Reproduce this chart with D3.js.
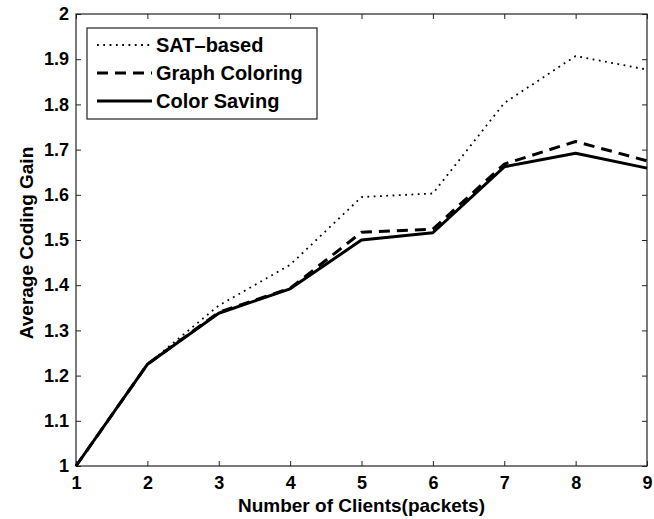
<!DOCTYPE html>
<html>
<head>
<meta charset="utf-8">
<script src="https://cdn.jsdelivr.net/npm/d3@7"></script>
<style>
  body { margin: 0; background: #fff; }
  svg text { font-family: "Liberation Sans", Arial, sans-serif; font-weight: bold; fill: #000; }
</style>
</head>
<body>
<div id="chart"></div>
<script>
const clients = [1, 2, 3, 4, 5, 6, 7, 8, 9];
const satBased      = [1, 1.225, 1.355, 1.445, 1.595, 1.603, 1.803, 1.907, 1.877];
const graphColoring = [1, 1.225, 1.340, 1.393, 1.517, 1.524, 1.668, 1.718, 1.675];
const colorSaving   = [1, 1.225, 1.338, 1.392, 1.500, 1.516, 1.662, 1.692, 1.659];
const xTicks = [1, 2, 3, 4, 5, 6, 7, 8, 9];
const yTicks = [1, 1.1, 1.2, 1.3, 1.4, 1.5, 1.6, 1.7, 1.8, 1.9, 2];

const width = 654, height = 519;
const margin = { top: 14, right: 7, bottom: 53, left: 76 };
const innerW = width - margin.left - margin.right;
const innerH = height - margin.top - margin.bottom;

const svg = d3.select('#chart').append('svg')
  .attr('width', width)
  .attr('height', height);

const g = svg.append('g')
  .attr('transform', `translate(${margin.left},${margin.top})`);

const x = d3.scaleLinear().domain([1, 9]).range([0, innerW]);
const y = d3.scaleLinear().domain([1, 2]).range([innerH, 0]);

const axisColor = '#222';

// axes, ticks pointing inward on all four sides
const xAxisG = g.append('g')
  .attr('transform', `translate(0,${innerH})`)
  .call(d3.axisBottom(x).tickValues(xTicks).tickFormat(d3.format('d'))
    .tickSizeInner(-5).tickSizeOuter(0).tickPadding(10));
const yAxisG = g.append('g')
  .call(d3.axisLeft(y).tickValues(yTicks).tickFormat(d => d === 1 || d === 2 ? d : d3.format('.1f')(d))
    .tickSizeInner(-5).tickSizeOuter(0).tickPadding(7));
const topG = g.append('g')
  .call(d3.axisTop(x).tickValues(xTicks).tickFormat('').tickSizeInner(-5).tickSizeOuter(0));
const rightG = g.append('g')
  .attr('transform', `translate(${innerW},0)`)
  .call(d3.axisRight(y).tickValues(yTicks).tickFormat('').tickSizeInner(-5).tickSizeOuter(0));

[xAxisG, yAxisG, topG, rightG].forEach(a => {
  a.select('.domain').remove();
  a.selectAll('line').attr('stroke', axisColor);
  a.selectAll('text').attr('font-size', 18).attr('font-family', null);
});

g.append('rect')
  .attr('width', innerW)
  .attr('height', innerH)
  .attr('fill', 'none')
  .attr('stroke', axisColor)
  .attr('stroke-width', 1.2);

// labels
g.append('text')
  .attr('x', innerW / 2)
  .attr('y', innerH + 46)
  .attr('text-anchor', 'middle')
  .attr('font-size', 19)
  .text('Number of Clients(packets)');

g.append('text')
  .attr('transform', 'rotate(-90)')
  .attr('x', -innerH / 2 - 3)
  .attr('y', -43)
  .attr('text-anchor', 'middle')
  .attr('font-size', 19)
  .text('Average Coding Gain');

const series = [
  { label: 'SAT\u2013based', values: satBased, width: 1.8, dash: '1.8,4.5' },
  { label: 'Graph Coloring', values: graphColoring, width: 3, dash: '11,7' },
  { label: 'Color Saving', values: colorSaving, width: 3, dash: null }
];

const line = d3.line()
  .x((d, i) => x(clients[i]))
  .y(d => y(d));

g.selectAll('path.series')
  .data(series)
  .enter().append('path')
  .attr('class', 'series')
  .attr('fill', 'none')
  .attr('stroke', '#000')
  .attr('stroke-width', d => d.width)
  .attr('stroke-dasharray', d => d.dash)
  .attr('stroke-linejoin', 'round')
  .attr('d', d => line(d.values));

// legend
const lg = g.append('g').attr('transform', 'translate(11,14)');
lg.append('rect')
  .attr('width', 230)
  .attr('height', 91)
  .attr('fill', '#fff')
  .attr('stroke', axisColor)
  .attr('stroke-width', 1.2);

const rows = lg.selectAll('g.row')
  .data(series)
  .enter().append('g')
  .attr('class', 'row')
  .attr('transform', (d, i) => `translate(0,${17 + i * 28})`);

rows.append('line')
  .attr('x1', 10).attr('x2', 65)
  .attr('stroke', '#000')
  .attr('stroke-width', d => d.width)
  .attr('stroke-dasharray', d => d.dash);

rows.append('text')
  .attr('x', 69)
  .attr('y', 7)
  .attr('font-size', 20)
  .text(d => d.label);
</script>
</body>
</html>
